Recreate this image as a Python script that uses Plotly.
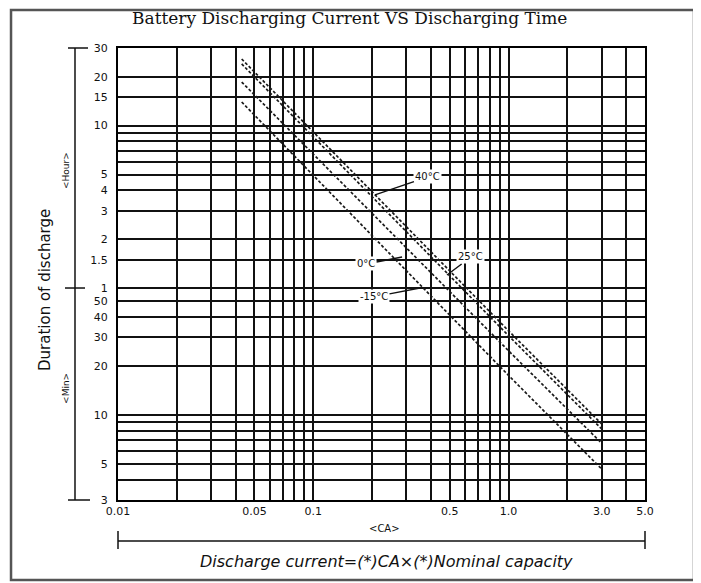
import math
import plotly.graph_objects as go

# discharge current (CA)
current_ca = [0.043, 0.2, 1.0, 3.0]

# duration of discharge in minutes, per temperature
duration_40c = [1540, 236, 32.9, 8.8]
duration_25c = [1436, 220, 30.7, 8.2]
duration_0c = [1112, 174, 24.8, 6.7]
duration_m15c = [838, 127, 17.5, 4.65]

series_names = ["40°C", "25°C", "0°C", "-15°C"]

# grid / tick positions
x_tickvals = [0.01, 0.02, 0.03, 0.04, 0.05, 0.06, 0.07, 0.08, 0.09,
              0.1, 0.2, 0.3, 0.4, 0.5, 0.6, 0.7, 0.8, 0.9,
              1, 2, 3, 4, 5]
x_ticktext = ["0.01", "", "", "", "0.05", "", "", "", "",
              "0.1", "", "", "", "0.5", "", "", "", "",
              "1.0", "", "3.0", "", "5.0"]

# y in minutes: hours part then minutes part
y_tickvals = [1800, 1200, 900, 600, 540, 480, 420, 360, 300, 240, 180, 120, 90, 60,
              50, 40, 30, 20, 10, 9, 8, 7, 6, 5, 4, 3]
y_ticktext = ["30", "20", "15", "10", "", "", "", "", "5", "4", "3", "2", "1.5", "1",
              "50", "40", "30", "20", "10", "", "", "", "", "5", "", "3"]

# label tips (x in CA, y in minutes) and pixel offsets of text
label_tips = {"40°C": (0.207, 225, 53, -18),
              "25°C": (0.484, 72.5, 24, -18),
              "0°C": (0.285, 93.5, -36, 7),
              "-15°C": (0.352, 60.3, -46, 9)}

fig = go.Figure()
for name, ys in zip(series_names, [duration_40c, duration_25c, duration_0c, duration_m15c]):
    fig.add_trace(go.Scatter(x=current_ca, y=ys, mode="lines", name=name,
                             line=dict(color="#1a1a1a", width=1.7, dash="3px,2px")))

# annotations on log axes take log10 positions
for name, (tx, ty, ax, ay) in label_tips.items():
    fig.add_annotation(x=math.log10(tx), y=math.log10(ty), xref="x", yref="y", text=name,
                       showarrow=True, arrowhead=0, arrowwidth=1.4, arrowcolor="#111111",
                       ax=ax, ay=ay, bgcolor="white",
                       font=dict(size=10, color="#111111", family="DejaVu Sans"))

axis_common = dict(type="log", showgrid=True, gridcolor="#111111", gridwidth=1.6,
                   showline=True, linecolor="#000000", linewidth=2, mirror=True,
                   zeroline=False, ticks="", tickfont=dict(size=11, color="#111111", family="DejaVu Sans"))

fig.update_xaxes(range=[-2, 0.69897], tickvals=x_tickvals, ticktext=x_ticktext, **axis_common)
fig.update_yaxes(range=[0.47712, 3.25527], tickvals=y_tickvals, ticktext=y_ticktext,
                 ticklabelstandoff=6, **axis_common)

line_style = dict(color="#111111", width=1.5)
shapes = [
    # outer frame
    dict(type="rect", xref="paper", yref="paper", x0=-0.2030, x1=1.0930, y0=-0.1770, y1=1.0840,
         line=dict(color="#555555", width=2.5)),
    # left bracket
    dict(type="line", xref="paper", yref="paper", x0=-0.0816, x1=-0.0816, y0=0, y1=1, line=line_style),
    dict(type="line", xref="paper", yref="paper", x0=-0.0949, x1=-0.0569, y0=1, y1=1, line=line_style),
    dict(type="line", xref="paper", yref="paper", x0=-0.1006, x1=-0.0626, y0=0.469, y1=0.469, line=line_style),
    dict(type="line", xref="paper", yref="paper", x0=-0.0949, x1=-0.0531, y0=0, y1=0, line=line_style),
    # bottom bracket
    dict(type="line", xref="paper", yref="paper", x0=0, x1=1, y0=-0.0907, y1=-0.0907, line=line_style),
    dict(type="line", xref="paper", yref="paper", x0=0, x1=0, y0=-0.0686, y1=-0.1084, line=line_style),
    dict(type="line", xref="paper", yref="paper", x0=1, x1=1, y0=-0.0686, y1=-0.1084, line=line_style),
]

text_font = dict(family="DejaVu Sans", color="#111111")
annotations = [
    dict(text="Battery Discharging Current VS Discharging Time", x=0.44, y=1.066,
         font=dict(size=17, family="DejaVu Serif", color="#111111")),
    dict(text="<CA>", x=0.505, y=-0.064, font=dict(size=10, **text_font)),
    dict(text="<i>Discharge current=(*)CA×(*)Nominal capacity</i>", x=0.51, y=-0.137,
         font=dict(size=16, family="DejaVu Sans", color="#111111")),
    dict(text="Duration of discharge", x=-0.1385, y=0.4646, textangle=-90,
         font=dict(size=15, **text_font)),
    dict(text="<Hour>", x=-0.0987, y=0.73, textangle=-90, font=dict(size=9, **text_font)),
    dict(text="<Min>", x=-0.0987, y=0.248, textangle=-90, font=dict(size=9, **text_font)),
]
for a in annotations:
    fig.add_annotation(xref="paper", yref="paper", showarrow=False,
                       xanchor="center", yanchor="middle", **a)

# the page puts the figure 8px in from the corner, so the figure is 8px smaller
fig.update_layout(
    width=693, height=575,
    margin=dict(l=110, r=56, t=40, b=83),
    paper_bgcolor="white", plot_bgcolor="white",
    showlegend=False,
    shapes=shapes,
)

fig.write_html("out.html")
